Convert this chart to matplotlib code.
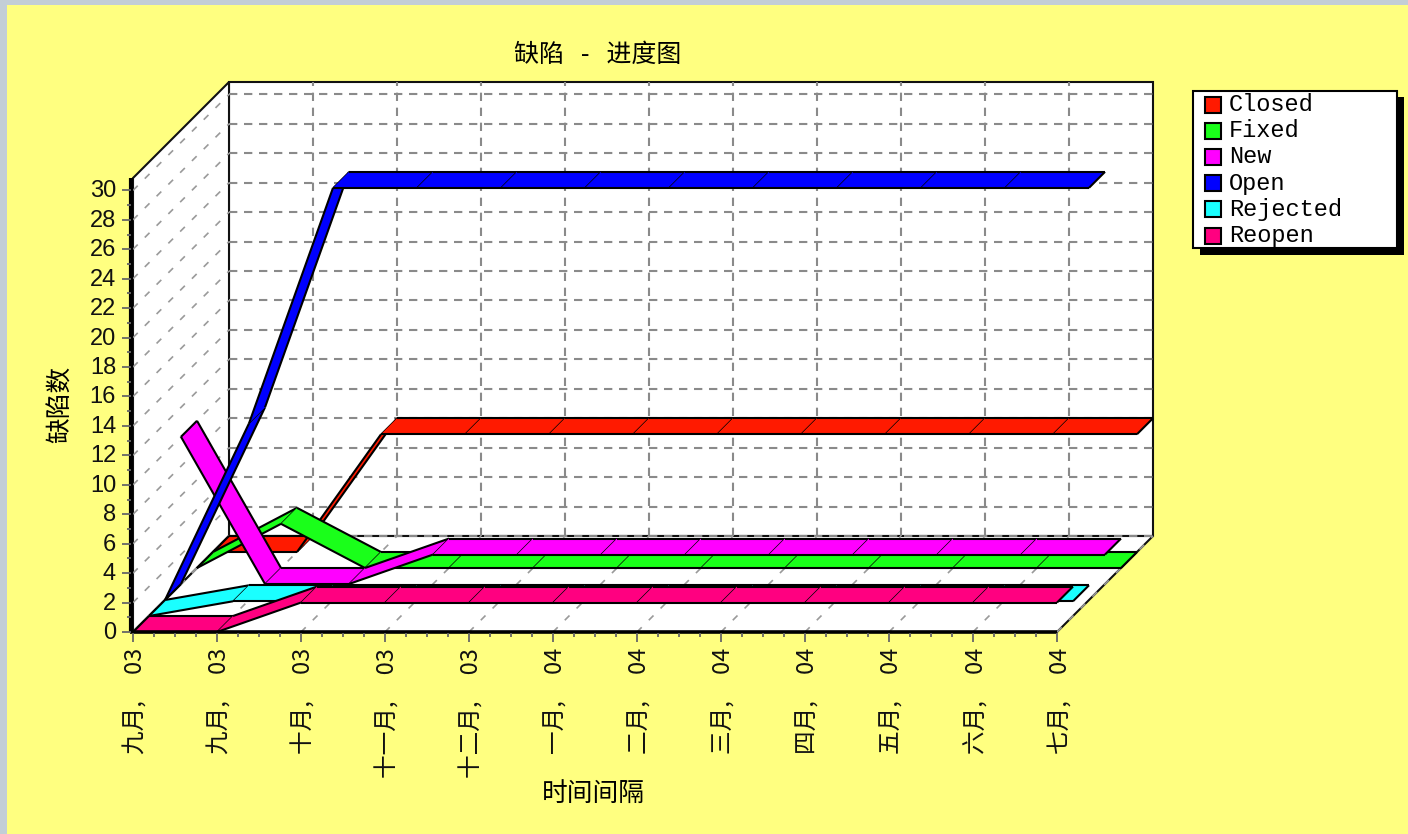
import matplotlib
matplotlib.use("Agg")
import matplotlib.pyplot as plt
import matplotlib.patches as patches

plt.rcParams['font.family'] = ['Noto Sans CJK SC', 'DejaVu Sans']

months = ["九月", "九月", "十月", "十一月", "十二月", "一月", "二月", "三月", "四月", "五月", "六月", "七月"]
years = ["03", "03", "03", "03", "03", "04", "04", "04", "04", "04", "04", "04"]

closed = [0, 0, 8, 8, 8, 8, 8, 8, 8, 8, 8, 8]
fixed = [0, 3, 0, 0, 0, 0, 0, 0, 0, 0, 0, 0]
new = [10, 0, 0, 2, 2, 2, 2, 2, 2, 2, 2, 2]
open_ = [0, 12, 28, 28, 28, 28, 28, 28, 28, 28, 28, 28]
rejected = [0, 1, 1, 1, 1, 1, 1, 1, 1, 1, 1, 1]
reopen = [0, 0, 2, 2, 2, 2, 2, 2, 2, 2, 2, 2]

# back to front, same order as the legend
names = ["Closed", "Fixed", "New", "Open", "Rejected", "Reopen"]
series = [closed, fixed, new, open_, rejected, reopen]
colors = ["#ff1a00", "#1aff1a", "#ff00ff", "#0000ff", "#1affff", "#ff0080"]
yticks = list(range(0, 31, 2))

X0, Y0 = 133, 632
DX, DY = 84, 14.72
DEPTH = 16
NDEPTH = 6
YMAX = 30.84
GRID = "#8a8a8a"
DASH = (0, (4, 3.2))
DIAG_DASH = (0, (4, 6))


def proj(x, v, d=0):
    # chart coords -> pixel, d is how far back in the depth
    return X0 + x * DX + d * DEPTH, Y0 - v * DY - d * DEPTH


def line(ax, a, b, **kw):
    ax.plot([a[0], b[0]], [a[1], b[1]], solid_capstyle="butt", **kw)


def poly(ax, pts, **kw):
    # same zorder as the lines, so drawing order decides what hides what
    ax.add_patch(patches.Polygon(pts, closed=True, zorder=2, **kw))


fig = plt.figure(figsize=(14.08, 8.34), dpi=100, facecolor="#c3ced6")
ax = fig.add_axes([0, 0, 1, 1])
ax.set_xlim(0, 1408)
ax.set_ylim(834, 0)
ax.axis("off")
ax.add_patch(patches.Rectangle((7, 5), 1401, 829, fc="#ffff80", ec="none"))

nx = len(months) - 1

# walls and floor
wall = [proj(0, 0, NDEPTH), proj(nx, 0, NDEPTH), proj(nx, YMAX, NDEPTH), proj(0, YMAX, NDEPTH)]
side = [proj(0, 0), proj(0, 0, NDEPTH), proj(0, YMAX, NDEPTH), proj(0, YMAX)]
floor = [proj(0, 0), proj(nx, 0), proj(nx, 0, NDEPTH), proj(0, 0, NDEPTH)]
for pts in (wall, side, floor):
    poly(ax, pts, fc="white", ec="#111111", lw=1.5, joinstyle="miter")

# grid
for v in yticks:
    line(ax, proj(0, v, NDEPTH), proj(nx, v, NDEPTH), color=GRID, lw=1.5, ls=DASH)
    line(ax, proj(0, v), proj(0, v, NDEPTH), color="#9a9a9a", lw=1.2, ls=DIAG_DASH)
for i in range(1, nx):
    line(ax, proj(i, 0, NDEPTH), proj(i, YMAX, NDEPTH), color=GRID, lw=1.5, ls=DASH)
for i in range(0, nx + 1):
    line(ax, proj(i, 0), proj(i, 0, NDEPTH), color="#9a9a9a", lw=1.2, ls=DIAG_DASH)

# ribbons, one polygon for each interval
for k, vals in enumerate(series):
    d = NDEPTH - 1 - k
    for i in range(len(vals) - 1):
        a, b = proj(i, vals[i], d), proj(i + 1, vals[i + 1], d)
        c, e = proj(i + 1, vals[i + 1], d + 1), proj(i, vals[i], d + 1)
        poly(ax, [a, b, c, e], fc=colors[k], ec="none")
        line(ax, a, b, color="black", lw=1.5)
        line(ax, e, c, color="black", lw=1.5)
        # inner joins are thin, only the ends are full weight
        sep = 1.5 if i == len(vals) - 2 else 1.0
        line(ax, b, c, color="black", lw=sep)
        if i == 0:
            line(ax, a, e, color="black", lw=1.5)

# front axes
line(ax, (proj(0, 0)[0] - 2, proj(0, 0)[1]), (proj(0, YMAX)[0] - 2, proj(0, YMAX)[1]), color="black", lw=3)
line(ax, (proj(0, 0)[0] - 3, proj(0, 0)[1]), proj(nx, 0), color="black", lw=2.6)

for v in range(0, 31):
    px, py = proj(0, v)
    ln = 9 if v % 2 == 0 else 4
    line(ax, (px - 2 - ln, py), (px - 2, py), color="#666666", lw=1.3)
for v in yticks:
    px, py = proj(0, v)
    ax.text(px - 17, py + 1, str(v), ha="right", va="center", fontsize=17,
            family=["Liberation Sans"], color="#111111")

for i in range(nx * 4 + 1):
    px, py = proj(i / 4, 0)
    ln = 9 if i % 4 == 0 else 4
    line(ax, (px, py + 1), (px, py + 1 + ln), color="#666666", lw=1.3)
for i in range(nx + 1):
    px, py = proj(i, 0)
    ax.text(px + 3, py + 16, months[i] + ",     " + years[i], rotation=90, ha="center", va="top",
            fontsize=17, color="#111111")

ax.text(598, 55, "缺陷   -   进度图", ha="center", va="center", fontsize=18, color="black")
ax.text(61, 404, "缺陷数", rotation=90, ha="center", va="center", fontsize=18.5, color="black")
ax.text(593, 794, "时间间隔", ha="center", va="center", fontsize=18.5, color="black")

# legend with the hard shadow
ax.add_patch(patches.Rectangle((1200, 97), 204, 158, fc="black", ec="none", zorder=2))
ax.add_patch(patches.Rectangle((1192.5, 90.5), 204, 157, fc="white", ec="black", lw=1.5, zorder=2))
for k, name in enumerate(names):
    ly = 104.5 + k * 26.2
    ax.add_patch(patches.Rectangle((1205, ly - 8), 16, 16, fc=colors[k], ec="black", lw=1.5, zorder=2))
    ax.text(1229, ly, name, ha="left", va="center", fontsize=17, family=["Liberation Mono"], color="black")

fig.savefig("out.png", dpi=100, facecolor=fig.get_facecolor())
